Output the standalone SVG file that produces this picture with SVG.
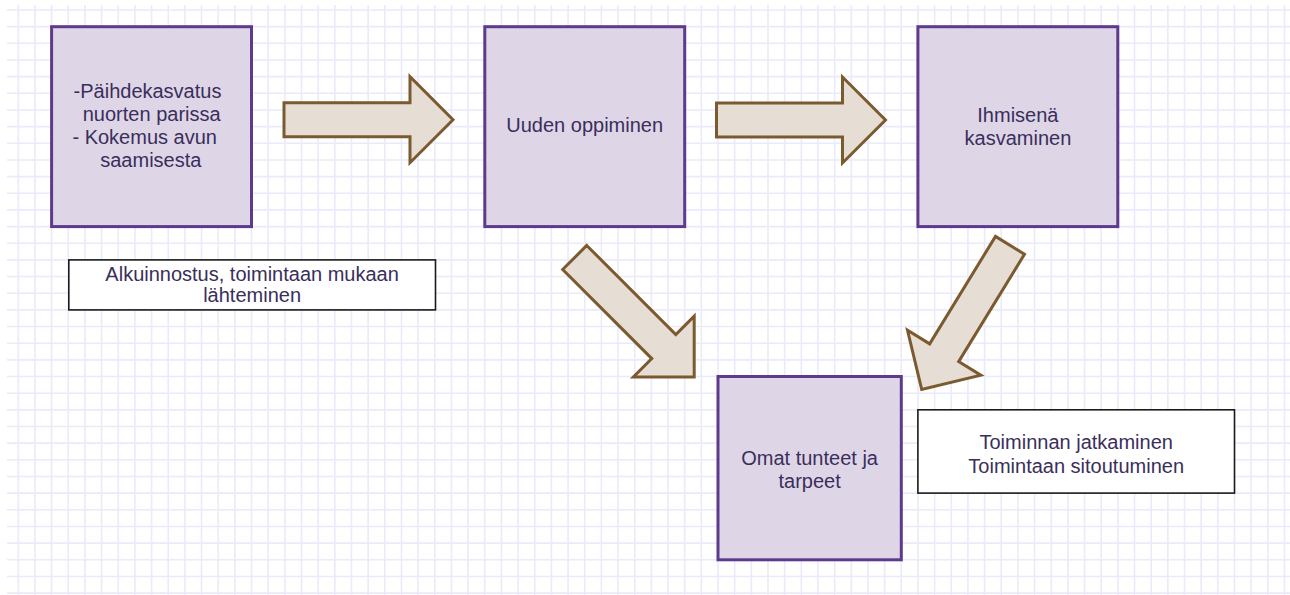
<svg xmlns="http://www.w3.org/2000/svg" width="1290" height="595" viewBox="0 0 1290 595">
<style>
.grid{fill:none;stroke:#eaeafb;stroke-width:1.6}
.node{fill:#ded6e6;stroke:#5d3a8b;stroke-width:3}
.label{fill:#ffffff;stroke:#1a1a1a;stroke-width:1.6}
.arrow{fill:#e6ded4;stroke:#7b5a2f;stroke-width:3;stroke-linejoin:miter}
text{font-family:"Liberation Sans",Arial,sans-serif;font-size:20px;fill:#3a2e5c;text-anchor:middle}
</style>
<defs>
<polygon id="arr" class="arrow" points="0,-17 126,-17 126,-43 169,0 126,43 126,17 0,17"/>
</defs>
<rect width="1290" height="595" fill="#ffffff"/>
<path class="grid" d="M18.3 5V595M34.96 5V595M51.62 5V595M68.28 5V595M84.94 5V595M101.6 5V595M118.26 5V595M134.92 5V595M151.58 5V595M168.24 5V595M184.9 5V595M201.56 5V595M218.22 5V595M234.88 5V595M251.54 5V595M268.2 5V595M284.86 5V595M301.52 5V595M318.18 5V595M334.84 5V595M351.5 5V595M368.16 5V595M384.82 5V595M401.48 5V595M418.14 5V595M434.8 5V595M451.46 5V595M468.12 5V595M484.78 5V595M501.44 5V595M518.1 5V595M534.76 5V595M551.42 5V595M568.08 5V595M584.74 5V595M601.4 5V595M618.06 5V595M634.72 5V595M651.38 5V595M668.04 5V595M684.7 5V595M701.36 5V595M718.02 5V595M734.68 5V595M751.34 5V595M768 5V595M784.66 5V595M801.32 5V595M817.98 5V595M834.64 5V595M851.3 5V595M867.96 5V595M884.62 5V595M901.28 5V595M917.94 5V595M934.6 5V595M951.26 5V595M967.92 5V595M984.58 5V595M1001.24 5V595M1017.9 5V595M1034.56 5V595M1051.22 5V595M1067.88 5V595M1084.54 5V595M1101.2 5V595M1117.86 5V595M1134.52 5V595M1151.18 5V595M1167.84 5V595M1184.5 5V595M1201.16 5V595M1217.82 5V595M1234.48 5V595M1251.14 5V595M1267.8 5V595M1284.46 5V595
M7 10H1290M7 26.66H1290M7 43.32H1290M7 59.98H1290M7 76.64H1290M7 93.3H1290M7 109.96H1290M7 126.62H1290M7 143.28H1290M7 159.94H1290M7 176.6H1290M7 193.26H1290M7 209.92H1290M7 226.58H1290M7 243.24H1290M7 259.9H1290M7 276.56H1290M7 293.22H1290M7 309.88H1290M7 326.54H1290M7 343.2H1290M7 359.86H1290M7 376.52H1290M7 393.18H1290M7 409.84H1290M7 426.5H1290M7 443.16H1290M7 459.82H1290M7 476.48H1290M7 493.14H1290M7 509.8H1290M7 526.46H1290M7 543.12H1290M7 559.78H1290M7 576.44H1290M7 593.1H1290"/>
<g id="connectors">
<use href="#arr" transform="translate(284,119.7)"/>
<use href="#arr" transform="translate(716.5,120)"/>
<use href="#arr" transform="translate(574.7,257.5) rotate(45)"/>
<use href="#arr" transform="translate(1010,245.3) rotate(121.5)"/>
</g>
<g id="node-start">
<rect class="node" x="51.6" y="26.7" width="199.9" height="199.9"/>
<text><tspan x="147.5" y="98">-Päihdekasvatus</tspan><tspan x="151.7" y="121">nuorten parissa</tspan><tspan x="144.7" y="144">- Kokemus avun</tspan><tspan x="150.8" y="167">saamisesta</tspan></text>
</g>
<g id="node-uuden">
<rect class="node" x="484.8" y="26.7" width="199.9" height="199.9"/>
<text x="584.7" y="132">Uuden oppiminen</text>
</g>
<g id="node-ihmisena">
<rect class="node" x="917.9" y="26.7" width="199.9" height="199.9"/>
<text><tspan x="1017.9" y="121.5">Ihmisenä</tspan><tspan x="1017.9" y="144.5">kasvaminen</tspan></text>
</g>
<g id="node-omat">
<rect class="node" x="718" y="376.5" width="183.3" height="183.3"/>
<text><tspan x="809.6" y="464.5">Omat tunteet ja</tspan><tspan x="809.6" y="487.5">tarpeet</tspan></text>
</g>
<g id="label-alku">
<rect class="label" x="68.8" y="259.9" width="366.7" height="50"/>
<text><tspan x="252.1" y="280.5">Alkuinnostus, toimintaan mukaan</tspan><tspan x="252.1" y="302">lähteminen</tspan></text>
</g>
<g id="label-jatko">
<rect class="label" x="917.9" y="409.8" width="316.6" height="83.3"/>
<text><tspan x="1076.2" y="448.5">Toiminnan jatkaminen</tspan><tspan x="1076.2" y="472.5">Toimintaan sitoutuminen</tspan></text>
</g>
</svg>
